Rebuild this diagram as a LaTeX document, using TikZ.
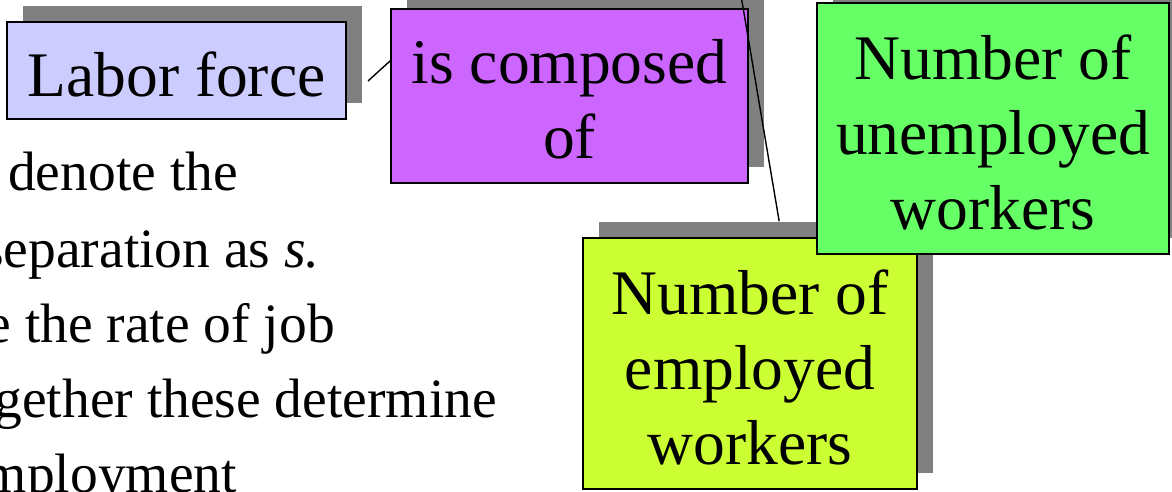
\documentclass[tikz,border=0pt]{standalone}
\usepackage{fontspec}
\setmainfont{Liberation Serif}
\usetikzlibrary{shadows,calc}

\definecolor{lavender}{HTML}{CCCCFF}
\definecolor{violetfill}{HTML}{CC66FF}
\definecolor{limefill}{HTML}{CCFF33}
\definecolor{greenfill}{HTML}{66FF66}
\definecolor{shadowgray}{HTML}{808080}

\tikzset{
  card/.style={draw=black, line width=1.7pt, inner sep=0pt,
    drop shadow={shadow xshift=16pt, shadow yshift=16pt, fill=shadowgray, opacity=1}},
  cardtext/.style={label={[align=center, inner sep=0pt, yshift=-3.5pt,
    font=\fontsize{63.5}{75}\selectfont]center:{#1}}},
  bodytext/.style={anchor=base east, inner sep=0pt, font=\fontsize{55.5}{75}\selectfont},
  link/.style={draw=black, line width=1.4pt}
}

\begin{document}
\begin{tikzpicture}[x=1pt, y=-1pt]
\useasboundingbox (0,0) rectangle (1172,491);
\clip (0,0) rectangle (1172,491);

% running text of the slide, cut off on the left
\node[bodytext] (t1) at (238,190) {denote the};
\node[bodytext] (t2) at (320,267) {separation as \textit{s.}};
\node[bodytext] (t3) at (335,342) {e the rate of job};
\node[bodytext] (t4) at (497,417) {gether these determine};
\node[bodytext] (t5) at (237,492) {mployment};

% concept boxes
\node[card, fill=lavender, minimum width=339pt, minimum height=97pt,
  cardtext={Labor force}] (labor) at (176.5,70.5) {};
\node[card, fill=violetfill, minimum width=357pt, minimum height=174pt,
  cardtext={is composed\\of}] (composed) at (569.5,96) {};

\node[card, fill=limefill, minimum width=334pt, minimum height=251pt,
  cardtext={Number of\\employed\\workers}] (employed) at (750,363.5) {};

% connectors
\coordinate (laborlink) at (368,81);
\coordinate (upperlink) at (735,-40);
\draw[link] (laborlink) -- ($(composed.north west)!0.3!(composed.south west)$);
\draw[link] (upperlink) -- ($(employed.north west)+(197,-16)$);

\node[card, fill=greenfill, minimum width=352pt, minimum height=251pt,
  cardtext={Number of\\unemployed\\workers}] (unemployed) at (993,128.5) {};
\end{tikzpicture}
\end{document}
